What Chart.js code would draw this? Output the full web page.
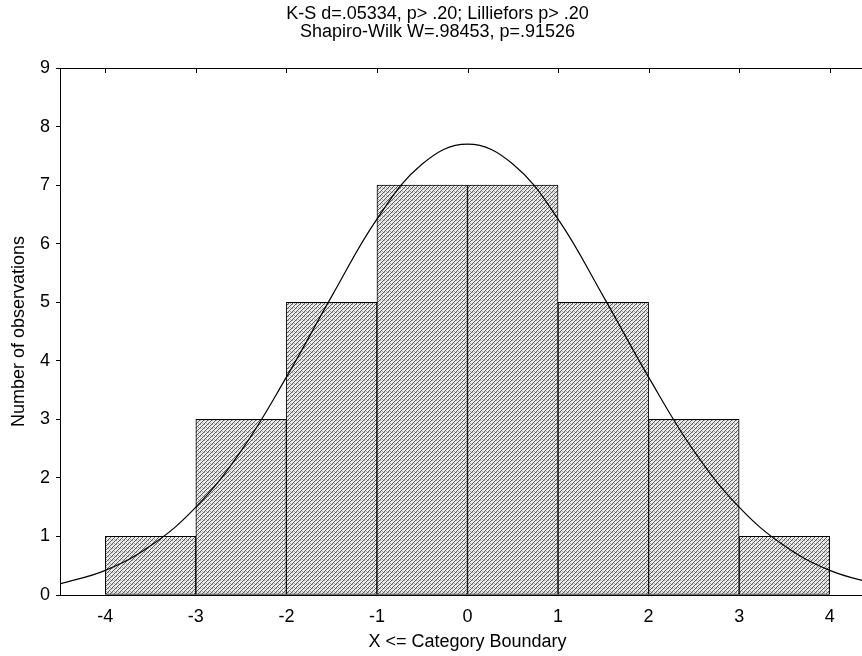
<!DOCTYPE html>
<html lang="en">
<head>
<meta charset="UTF-8">
<title>Histogram with normal fit</title>
<script src="https://cdn.jsdelivr.net/npm/chart.js@4"></script>
<style>
    html, body { margin: 0; padding: 0; background: #fff; overflow: hidden; }
    #wrap { width: 862px; height: 656px; overflow: hidden; }
</style>
</head>
<body>
<div id="wrap"><canvas id="chart" width="882" height="656"></canvas></div>
<script>
// histogram bins (lower boundary of each unit-wide bin) and counts
const binLower = [-4, -3, -2, -1, 0, 1, 2, 3];
const binCounts = [1, 3, 5, 7, 7, 5, 3, 1];

// category boundaries shown on the x axis
const xTickValues = [-4, -3, -2, -1, 0, 1, 2, 3, 4];

// fitted normal curve
const curveX = [-4.5, -4, -3.5, -3, -2.5, -2, -1.5, -1, -0.5, 0, 0.5, 1, 1.5, 2, 2.5, 3, 3.5, 4, 4.5];
const curveY = [0.19, 0.42, 0.84, 1.5, 2.46, 3.72, 5.1, 6.42, 7.36, 7.7, 7.36, 6.42, 5.1, 3.72, 2.46, 1.5, 0.84, 0.42, 0.19];

const titleLines = ['K-S d=.05334, p> .20; Lilliefors p> .20', 'Shapiro-Wilk W=.98453, p=.91526'];

const FONT = '"Liberation Sans", Arial, Helvetica, sans-serif';

function hatch() {
    const c = document.createElement('canvas');
    c.width = 4;
    c.height = 4;
    const g = c.getContext('2d');
    g.fillStyle = '#ececec';
    g.fillRect(0, 0, 4, 4);
    g.fillStyle = '#5a5a5a';
    g.fillRect(3, 0, 1, 1);
    g.fillRect(2, 1, 1, 1);
    g.fillRect(1, 2, 1, 1);
    g.fillRect(0, 3, 1, 1);
    g.fillStyle = '#a8a8a8';
    g.fillRect(0, 0, 1, 1);
    g.fillRect(2, 3, 1, 1);
    return g.createPattern(c, 'repeat');
}

// top border with inward tick marks
const frame = {
    id: 'frame',
    afterDatasetsDraw(chart) {
        const { ctx, chartArea } = chart;
        const xs = chart.scales.x;
        ctx.save();
        ctx.strokeStyle = '#000';
        ctx.lineWidth = 1;
        ctx.beginPath();
        ctx.moveTo(chartArea.left, chartArea.top + 0.5);
        ctx.lineTo(chartArea.right, chartArea.top + 0.5);
        xs.ticks.forEach(t => {
            const px = Math.round(xs.getPixelForValue(t.value)) + 0.5;
            ctx.moveTo(px, chartArea.top);
            ctx.lineTo(px, chartArea.top + 5);
        });
        ctx.stroke();
        ctx.restore();
    }
};

new Chart(document.getElementById('chart'), {
    data: {
        datasets: [
            {
                type: 'line',
                data: curveX.map((x, i) => ({ x: x, y: curveY[i] })),
                borderColor: '#000',
                borderWidth: 1.2,
                pointRadius: 0,
                tension: 0.4,
                fill: false,
                order: 0
            },
            {
                type: 'bar',
                data: binLower.map((x, i) => ({ x: x + 0.5, y: binCounts[i] })),
                backgroundColor: hatch(),
                borderColor: '#000',
                borderWidth: 1,
                borderSkipped: false,
                barPercentage: 1,
                categoryPercentage: 1,
                order: 1
            }
        ]
    },
    options: {
        responsive: false,
        animation: false,
        events: [],
        layout: { padding: { left: 0, right: 7, top: 0, bottom: 0 } },
        plugins: {
            legend: { display: false },
            tooltip: { enabled: false },
            title: {
                display: true,
                text: titleLines,
                color: '#000',
                font: { family: FONT, size: 18, weight: 'normal', lineHeight: 1.0 },
                padding: { top: 5, bottom: 27 }
            }
        },
        scales: {
            x: {
                type: 'linear',
                offset: false,
                min: -4.5,
                max: 4.5,
                afterFit(s) { s.height = 61; },
                afterBuildTicks(s) { s.ticks = xTickValues.map(v => ({ value: v })); },
                ticks: {
                    color: '#000',
                    padding: 11,
                    maxRotation: 0,
                    font: { family: FONT, size: 18 }
                },
                grid: { display: false, drawTicks: false },
                border: { display: true, color: '#000', width: 1 },
                title: {
                    display: true,
                    text: 'X <= Category Boundary',
                    color: '#000',
                    font: { family: FONT, size: 18 },
                    padding: { top: 0, bottom: 3 }
                }
            },
            y: {
                min: 0,
                max: 9,
                afterFit(s) { s.width = 60; },
                ticks: {
                    stepSize: 1,
                    color: '#000',
                    padding: 6,
                    font: { family: FONT, size: 18 }
                },
                grid: { drawOnChartArea: false, drawTicks: true, tickLength: 4, color: '#000' },
                border: { display: true, color: '#000', width: 1 },
                title: {
                    display: true,
                    text: 'Number of observations',
                    color: '#000',
                    font: { family: FONT, size: 18 },
                    padding: { top: 8, bottom: 0 }
                }
            }
        }
    },
    plugins: [frame]
});
</script>
</body>
</html>
